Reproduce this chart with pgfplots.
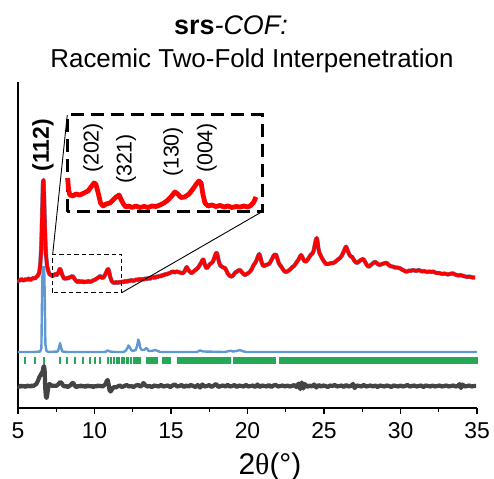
\documentclass[border=0pt]{standalone}
\usepackage{pgfplots}
\pgfplotsset{compat=1.18}
\usepackage{pgfplotstable}
\usepackage{fontspec}
\setmainfont{Liberation Sans}
\newfontfamily\greekserif{Liberation Serif}

\definecolor{obsred}{RGB}{255,0,0}
\definecolor{calcblue}{RGB}{96,152,212}
\definecolor{tickgreen}{RGB}{38,168,88}
\definecolor{diffgray}{RGB}{68,68,68}

% observed pattern (offset upward), 2theta vs intensity
\pgfplotstableread{
tt I
5.00 128
5.10 127
5.20 129
5.30 128
5.40 127.5
5.50 129
5.60 128
5.70 129.5
5.80 128
5.90 129
6.00 130
6.10 129.5
6.20 131
6.30 132.5
6.38 135
6.45 142
6.52 160
6.58 195
6.63 226
6.67 228
6.71 210
6.76 180
6.82 155
6.90 142
6.98 137
7.05 134
7.15 133
7.25 132
7.35 133
7.45 134
7.55 133
7.65 136
7.72 139
7.78 138.5
7.85 135
7.95 131
8.05 129
8.15 130
8.25 129.5
8.35 130.5
8.45 131
8.55 132
8.62 131
8.70 129
8.80 127
8.90 126
9.00 127
9.10 126
9.20 127
9.30 125.5
9.40 126.5
9.50 126
9.60 127
9.70 126
9.80 126.5
9.90 127.5
10.00 128
10.10 129
10.20 130
10.30 131
10.38 132
10.46 130.5
10.55 130
10.65 132
10.75 135
10.83 138
10.90 139
10.96 136
11.03 131
11.12 127
11.22 125.5
11.32 125
11.42 126
11.52 125
11.62 126
11.72 125.5
11.82 126.5
11.92 126
12.02 127
12.12 126
12.22 127.5
12.32 127
12.42 128
12.52 127
12.62 127.5
12.72 128.5
12.82 128
12.92 129
13.02 128
13.12 129
13.22 128.5
13.32 129.5
13.42 129
13.52 130
13.62 129
13.72 130.5
13.82 131
13.92 130
14.02 131.5
14.12 131
14.22 132
14.32 131.5
14.42 133
14.52 132.5
14.62 134
14.72 133.5
14.82 134.5
14.93 135
15.03 136
15.13 136.5
15.23 135.5
15.37 136.5
15.48 136
15.58 135.5
15.68 135
15.80 135
15.90 137
15.97 139.5
16.03 141
16.10 139
16.18 137
16.28 135.5
16.35 135
16.45 136
16.55 137.5
16.68 139
16.78 140.5
16.88 143
16.98 145.5
17.06 148
17.12 148.5
17.20 144
17.28 140.5
17.36 140
17.45 142
17.55 144
17.66 145
17.76 147
17.85 151
17.93 154.5
17.99 155
18.05 152
18.12 147
18.20 143
18.30 141.5
18.42 140.5
18.53 140
18.63 137
18.73 134
18.85 132
18.97 131.3
19.08 133
19.20 135.5
19.30 136.3
19.40 137.5
19.51 138
19.62 136
19.74 134
19.84 133
19.95 134
20.06 135
20.16 136.3
20.28 139
20.40 143
20.50 145
20.60 148
20.69 152
20.77 154
20.84 151
20.92 146
21.00 142.5
21.10 142
21.20 143
21.30 143.5
21.40 144
21.50 146
21.60 149
21.70 152
21.80 153.5
21.88 153
21.96 149
22.04 145
22.12 143
22.20 141.5
22.30 139
22.40 137
22.50 136
22.60 136.5
22.70 137.5
22.82 139
22.94 141
23.04 142
23.14 144
23.24 146.5
23.32 148
23.42 151
23.50 153
23.58 151
23.67 148
23.76 146.3
23.86 147
23.96 149
24.06 151.5
24.16 153.5
24.24 154.5
24.32 157
24.40 163
24.47 168
24.52 170
24.57 167
24.63 160
24.70 155
24.80 152
24.90 149
25.00 146.5
25.13 144
25.25 144
25.38 144.5
25.50 145
25.61 145
25.72 146
25.84 147.5
25.95 149
26.05 150
26.15 152
26.25 155
26.33 158
26.40 160.5
26.45 161.3
26.51 159
26.58 156
26.67 153
26.76 151.5
26.84 151
26.92 149
27.02 146.5
27.14 145
27.25 146
27.36 147.5
27.47 148.5
27.57 149
27.67 146.5
27.78 143.5
27.90 141.3
28.00 142
28.10 143.5
28.22 145
28.33 146.3
28.44 145
28.55 143.5
28.66 143
28.78 144
28.90 144.5
29.00 145
29.10 145
29.20 143.5
29.32 142
29.43 141.5
29.53 141.3
29.64 140.5
29.76 140.5
29.87 140
29.97 139.7
30.10 138.5
30.22 137.5
30.34 136.5
30.45 136.5
30.56 137.5
30.68 137
30.80 138
30.92 137.5
31.04 137
31.16 138
31.27 137.5
31.40 136.5
31.52 137
31.64 136.5
31.76 136
31.88 136.5
32.00 136
32.14 136.5
32.26 135.5
32.38 135
32.50 135
32.62 134.5
32.74 134
32.86 134.5
32.98 134
33.10 133.5
33.22 134
33.34 134.5
33.45 134.5
33.56 133.5
33.68 133
33.80 132.5
33.90 133
34.00 132.5
34.12 132
34.24 131.5
34.36 131
34.48 131.5
34.60 131
34.72 130.5
34.87 130.5
}\observed

% simulated pattern of the model (offset baseline)
\pgfplotstableread{
tt I
5.00 56
6.00 56
6.45 56.5
6.53 60
6.57 110
6.61 141
6.71 141
6.75 110
6.79 64
6.86 57
7.00 56
7.60 56.5
7.68 60
7.75 65
7.82 60
7.90 56.5
8.20 56
10.70 56
10.85 57.5
11.00 56.5
11.30 56
11.90 56
12.05 57.5
12.15 60
12.22 62.5
12.30 61
12.40 58
12.50 57
12.70 58
12.80 63
12.86 68.5
12.92 66
13.00 60
13.10 58
13.25 58
13.38 60
13.45 59
13.55 57
13.75 57
13.95 58
14.05 57.5
14.30 56
16.70 56
16.90 57.5
17.10 56.5
18.50 56
18.90 57.3
19.05 56.5
19.30 57
19.50 58
19.65 57
19.90 56
35.00 56
}\simulated

% observed minus fit
\pgfplotstableread{
tt D
5.00 22
5.10 21
5.20 22.5
5.30 21.5
5.40 22
5.50 21
5.60 22.5
5.70 22
5.80 21.5
5.90 22.5
6.00 22
6.10 23
6.20 24
6.30 27
6.40 31
6.48 33
6.55 35
6.60 36
6.65 40
6.70 42
6.74 38
6.78 20
6.82 12
6.86 10
6.90 12
6.95 18
7.00 22
7.05 24
7.15 23
7.25 22
7.35 22.5
7.45 22
7.55 22.5
7.65 24
7.75 26
7.85 25
7.95 22.5
8.05 21.5
8.15 22
8.25 21
8.35 22
8.45 23
8.55 25
8.62 25
8.72 22
8.82 21
8.92 22
9.02 21.5
9.12 22.5
9.22 21.5
9.32 22
9.42 21
9.52 22.5
9.62 22
9.72 21.5
9.82 22
9.92 21
10.02 22
10.12 21.5
10.22 22.5
10.32 22
10.42 22
10.52 21.5
10.62 22.5
10.72 24
10.80 27
10.86 28
10.92 24
10.98 18
11.05 16.5
11.12 18
11.20 20
11.30 21
11.40 20.5
11.50 21.5
11.65 22.5
11.80 21
11.95 22
12.10 23
12.25 21.5
12.40 22
12.55 21
12.70 22.5
12.85 23
13.00 21.5
13.10 22.5
13.20 25
13.30 23
13.45 21.5
13.60 22
13.75 21
13.90 22.5
14.05 22
14.20 21.5
14.35 23
14.50 21.5
14.65 22
14.80 22.5
14.95 21
15.10 22.5
15.25 23.5
15.40 21.5
15.55 22
15.70 23
15.85 21
16.00 22.5
16.15 21.5
16.30 23
16.45 22
16.60 21
16.75 23
16.90 20.5
17.05 23.5
17.20 21.5
17.35 22
17.50 23
17.65 21
17.80 22.5
17.95 24
18.10 21
18.25 22
18.40 22.5
18.55 21.5
18.70 23
18.85 21.5
19.00 22
19.15 23
19.30 21
19.45 22.5
19.60 22
19.75 21.5
19.90 23
20.05 21.5
20.20 22
20.35 22.5
20.50 21
20.65 23.5
20.80 21
20.95 22.5
21.10 22
21.25 21.5
21.40 23
21.55 21
21.70 22.5
21.85 23
22.00 21.5
22.15 22
22.30 22.5
22.45 21.5
22.60 22.5
22.75 21.5
22.90 22
23.05 23
23.20 21
23.35 24.5
23.45 19
23.55 25.5
23.65 19.5
23.75 24
23.90 21
24.05 22.5
24.20 21.5
24.35 23.5
24.50 20.5
24.65 23
24.80 21.5
24.95 22.5
25.10 22
25.25 21
25.40 22.5
25.55 22
25.70 23
25.85 21.5
26.00 22
26.15 22.5
26.30 21
26.45 23
26.60 21.5
26.75 22
26.90 24
27.00 20
27.15 22.5
27.30 22
27.45 21.5
27.60 23
27.75 21.5
27.90 22
28.05 22.5
28.20 21.5
28.35 22.5
28.50 21
28.65 22.5
28.80 22
28.95 21.5
29.10 22.5
29.25 22
29.40 21
29.55 22.5
29.70 22
29.85 21.5
30.00 22.5
30.15 21.5
30.30 22
30.45 23
30.60 21.5
30.75 22
30.90 22.5
31.05 21.5
31.20 22
31.35 22.5
31.50 21
31.65 22.5
31.80 22
31.95 21.5
32.10 22.5
32.25 21.5
32.40 22
32.55 22.5
32.70 21.5
32.85 22
33.00 22.5
33.15 21.5
33.30 22
33.45 22.5
33.60 21.5
33.75 22
33.85 24
33.95 20
34.05 23.5
34.20 21.5
34.35 22
34.50 22.5
34.65 21.5
34.80 22
34.95 22
}\difference

% Bragg reflection positions
\pgfplotstableread{
tt
5.46
6.11
6.70
7.75
8.22
8.73
9.27
9.71
10.03
10.36
10.90
11.08
11.30
11.45
11.62
11.80
11.95
12.10
12.22
12.38
12.55
12.70
12.86
12.97
13.41
13.55
13.68
13.82
13.95
14.10
14.45
14.55
14.70
14.82
14.93
15.46
15.58
15.68
15.80
15.90
16.00
16.10
16.22
16.32
16.45
16.55
16.65
16.78
16.90
17.00
17.12
17.22
17.30
17.42
17.52
17.62
17.72
17.85
17.95
18.05
18.15
18.25
18.35
18.45
18.55
18.65
18.75
18.86
19.10
19.20
19.30
19.40
19.50
19.60
19.70
19.80
19.90
20.00
20.10
20.20
20.30
20.40
20.50
20.60
20.70
20.80
20.90
21.00
21.10
21.20
21.30
21.40
21.50
21.60
21.70
21.80
22.10
22.20
22.30
22.40
22.50
22.60
22.70
22.80
22.90
23.00
23.10
23.20
23.30
23.40
23.50
23.60
23.70
23.80
23.90
24.00
24.10
24.20
24.30
24.40
24.50
24.60
24.70
24.80
24.90
25.00
25.10
25.20
25.30
25.40
25.50
25.60
25.70
25.80
25.90
26.00
26.10
26.20
26.30
26.40
26.50
26.60
26.70
26.80
26.90
27.00
27.10
27.20
27.30
27.40
27.50
27.60
27.70
27.80
27.90
28.00
28.10
28.20
28.30
28.40
28.50
28.60
28.70
28.80
28.90
29.00
29.10
29.20
29.30
29.40
29.50
29.60
29.70
29.80
29.90
30.00
30.10
30.20
30.30
30.40
30.50
30.60
30.70
30.80
30.90
31.00
31.10
31.20
31.30
31.40
31.50
31.60
31.70
31.80
31.90
32.00
32.10
32.20
32.30
32.40
32.50
32.60
32.70
32.80
32.90
33.00
33.10
33.20
33.30
33.40
33.50
33.60
33.70
33.80
33.90
34.00
34.10
34.20
34.30
34.40
34.50
34.60
34.70
34.80
34.90
34.97
}\reflections

% magnified view of the 7.3--11.8 degree region
\pgfplotstableread{
tt I
7.277 230
7.30 218
7.33 213
7.40 212
7.47 214
7.56 213
7.66 215
7.75 217
7.82 221
7.89 225
7.93 224
7.98 216
8.04 205
8.10 202
8.17 204
8.26 205
8.33 208
8.40 211
8.47 213
8.51 209
8.57 204
8.63 201
8.70 202
8.77 200.5
8.86 202
8.95 200.5
9.05 201.5
9.14 200.5
9.23 202
9.32 201.5
9.42 203
9.51 205
9.60 208
9.69 212
9.76 216
9.83 214
9.90 210.5
9.99 211
10.09 214
10.18 219
10.26 224
10.32 227
10.37 225
10.41 214
10.46 205
10.53 202
10.62 203
10.71 201.5
10.81 202.5
10.90 201
10.99 202
11.08 200.5
11.18 201.5
11.27 201
11.36 202
11.45 201
11.52 202.5
11.59 206
11.64 211
}\zoomed

\begin{document}
\begin{tikzpicture}
\begin{axis}[
  at={(0,0)}, anchor=south west,
  width=459bp, height=326bp, scale only axis,
  xmin=5, xmax=35, ymin=0, ymax=326,
  axis x line=bottom, axis y line=left,
  axis line style={-, line width=1.3bp, black},
  ytick=\empty,
  xtick={5,10,...,35},
  minor xtick={7.5,12.5,...,32.5},
  tick align=outside,
  major tick length=6bp, minor tick length=4bp,
  every tick/.style={black, line width=1.2bp},
  xticklabel style={font=\fontsize{23}{27}\selectfont, yshift=-5bp},
  /pgf/number format/assume math mode=true,
  clip=false,
]
  % simulated pattern
  \addplot[calcblue, line width=2.4bp, line join=round] table[x=tt, y=I] {\simulated};
  % reflection markers
  \addplot[tickgreen, only marks, mark=|, mark size=3.6bp,
    mark options={line width=2bp}] table[x index=0, y index=0, y expr=47.5] {\reflections};
  % difference curve
  \addplot[diffgray, line width=4.2bp, line join=round] table[x=tt, y=D] {\difference};
  % fitted and observed pattern
  \addplot[calcblue, line width=4.3bp, line join=round] table[x=tt, y=I] {\observed};
  \addplot[obsred, line width=3.6bp, line join=round] table[x=tt, y=I] {\observed};

  % region that is magnified
  \draw[black, line width=0.9bp, dash pattern=on 4.5bp off 3bp]
    (axis cs:7.27,115.3) rectangle (axis cs:11.78,154);
  \draw[black, line width=0.9bp] (axis cs:7.27,154) -- (axis cs:8.22,293);
  \draw[black, line width=0.9bp] (axis cs:11.78,115.3) -- (axis cs:20.95,196.3);

  % reflection labels
  \node[rotate=90, font=\bfseries\fontsize{23}{27}\selectfont] at (axis cs:6.63,263) {(112)};
  \node[rotate=90, font=\fontsize{21.5}{25}\selectfont] at (axis cs:9.90,260) {(202)};
  \node[rotate=90, font=\fontsize{21.5}{25}\selectfont] at (axis cs:12.06,249) {(321)};
  \node[rotate=90, font=\fontsize{21.5}{25}\selectfont] at (axis cs:15.13,256) {(130)};
  \node[rotate=90, font=\fontsize{21.5}{25}\selectfont] at (axis cs:17.35,260) {(004)};
\end{axis}

% inset
\begin{axis}[
  at={(49.3bp,196.3bp)}, anchor=south west,
  width=194.7bp, height=96.7bp, scale only axis,
  xmin=7.27, xmax=11.78, ymin=196.3, ymax=293,
  axis line style={black, line width=3bp, dash pattern=on 13bp off 7bp},
  xtick=\empty, ytick=\empty,
  clip=false,
]
  \addplot[obsred, line width=4.8bp, line join=round] table[x=tt, y=I] {\zoomed};
\end{axis}

\node[anchor=base, font=\fontsize{27}{32}\selectfont] at (213bp,373bp)
  {\textbf{srs}\textit{-COF:}};
\node[anchor=base, font=\fontsize{26}{31}\selectfont] at (234bp,340bp)
  {Racemic Two-Fold Interpenetration};
\node[anchor=base, font=\fontsize{30}{36}\selectfont] at (252bp,-66bp)
  {2{\greekserif θ}(°)};

\pgfresetboundingbox
\path (-18bp,-71bp) rectangle (476bp,408bp);
\end{tikzpicture}
\end{document}
